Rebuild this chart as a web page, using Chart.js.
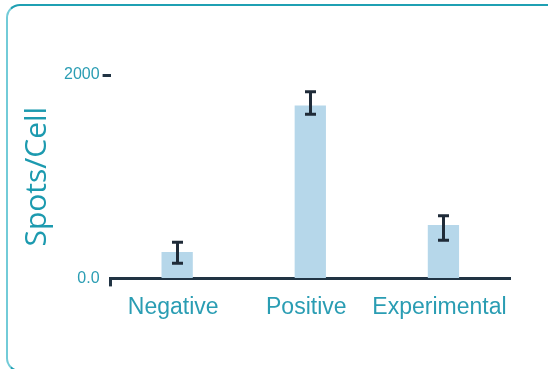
<!DOCTYPE html>
<html>
<head>
<meta charset="utf-8">
<script src="https://cdn.jsdelivr.net/npm/chart.js@4.4.0/dist/chart.umd.min.js"></script>
<style>
  html, body { margin: 0; padding: 0; background: #fff; overflow: hidden; }
  #wrap { position: relative; width: 548px; height: 369px; }
  #card {
    position: absolute; left: 6px; top: 4px; width: 600px; height: 368px;
    border: 2px solid #1fa0b3; border-left-color: #72cbd8; border-radius: 14px;
    box-sizing: border-box;
  }
  #js--chart { position: absolute; left: 0; top: 0; }
</style>
</head>
<body>
<div id="wrap">
  <div id="card"></div>
  <canvas id="js--chart" width="548" height="369"></canvas>
</div>
<script>
const labels = ["Negative", "Positive", "Experimental"];
const spots = [260, 1700, 525];
const errLow = [150, 1615, 375];
const errHigh = [355, 1835, 615];
const yTicks = [0, 2000];

const teal = "#2a9db3";
const dark = "#213444";
const smallFont = "'Liberation Sans', Arial, sans-serif";

// foutbalken tekenen met de schalen van chart.js
const errorBars = {
    id: "errorBars",
    afterDatasetsDraw: function (chart) {
        const ctx = chart.ctx;
        const y = chart.scales.y;
        ctx.save();
        ctx.strokeStyle = "#1f2b38";
        ctx.lineWidth = 3;
        for (let i = 0; i < labels.length; i++) {
            const bar = chart.getDatasetMeta(0).data[i];
            const cx = Math.round(bar.x) + 0.5;
            const top = y.getPixelForValue(errHigh[i]);
            const bottom = y.getPixelForValue(errLow[i]);
            ctx.beginPath();
            ctx.moveTo(cx, top);
            ctx.lineTo(cx, bottom);
            ctx.moveTo(cx - 5.5, top);
            ctx.lineTo(cx + 5.5, top);
            ctx.moveTo(cx - 5.5, bottom);
            ctx.lineTo(cx + 5.5, bottom);
            ctx.stroke();
        }
        ctx.restore();
    }
};

const data = {
    labels: labels,
    datasets: [
        {
            label: "Spots/Cell",
            data: spots,
            backgroundColor: "#b6d7ea",
            categoryPercentage: 1,
            barPercentage: 0.235
        }
    ]
};

const config = {
    type: "bar",
    data: data,
    plugins: [errorBars],
    options: {
        responsive: false,
        animation: false,
        layout: {
            padding: { top: 75, right: 38, bottom: 41, left: 19 }
        },
        plugins: {
            legend: { display: false },
            tooltip: { enabled: false }
        },
        scales: {
            x: {
                grid: {
                    display: true,
                    drawOnChartArea: false,
                    drawTicks: true,
                    tickLength: 8,
                    tickWidth: 3,
                    tickColor: function (c) {
                        return c.index === 0 ? dark : "rgba(0,0,0,0)";
                    }
                },
                border: { display: true, color: dark, width: 3 },
                ticks: {
                    color: teal,
                    padding: 7,
                    labelOffset: -4,
                    maxRotation: 0,
                    autoSkip: false,
                    font: { family: smallFont, size: 23 }
                }
            },
            y: {
                min: 0,
                max: 2000,
                afterBuildTicks: function (axis) {
                    axis.ticks = yTicks.map(function (v) { return { value: v }; });
                },
                grid: {
                    drawOnChartArea: false,
                    drawTicks: true,
                    tickLength: 8,
                    tickWidth: 3,
                    tickColor: function (c) {
                        return c.tick && c.tick.value === 0 ? "rgba(0,0,0,0)" : dark;
                    }
                },
                border: { display: false },
                ticks: {
                    color: teal,
                    padding: 3,
                    font: { family: smallFont, size: 16 },
                    callback: function (v) {
                        return v === 0 ? "0.0" : String(v);
                    }
                },
                title: {
                    display: true,
                    text: "Spots/Cell",
                    color: "#1c9aaf",
                    padding: { top: 0, bottom: 6 },
                    font: { family: "'Open Sans', sans-serif", size: 30 }
                }
            }
        }
    }
};

new Chart(document.getElementById("js--chart"), config);
</script>
</body>
</html>
